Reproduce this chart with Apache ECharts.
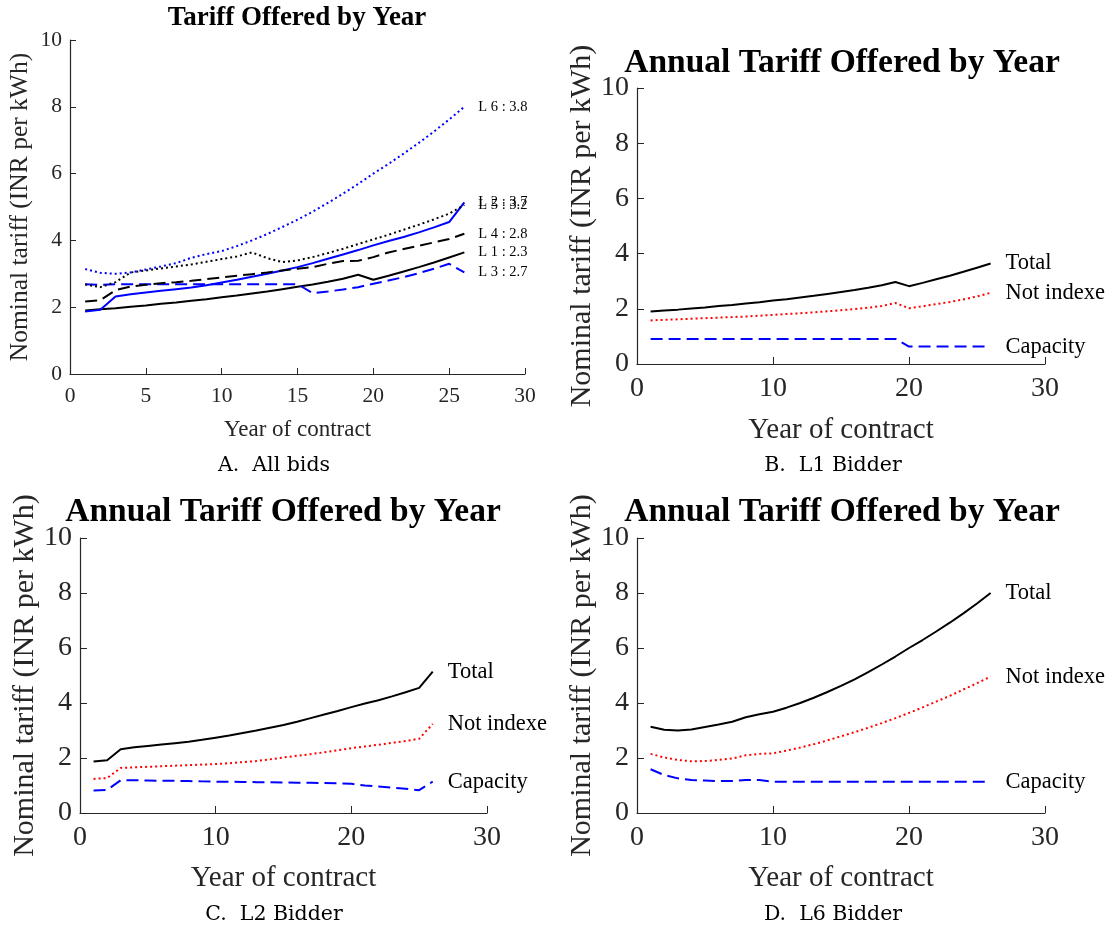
<!DOCTYPE html>
<html>
<head>
<meta charset="utf-8">
<script src="https://cdn.jsdelivr.net/npm/echarts@6/dist/echarts.min.js"></script>
<style>
html,body{margin:0;padding:0;background:#fff;}
#chart{width:1105px;height:930px;}
</style>
</head>
<body>
<div id="chart"></div>
<script>
// ---------- data ----------
const years = [1,2,3,4,5,6,7,8,9,10,11,12,13,14,15,16,17,18,19,20,21,22,23,24,25,26];

// Panel A: total tariff of every bidder
const bidL1 = [1.90,1.94,1.97,2.01,2.05,2.10,2.14,2.19,2.24,2.30,2.35,2.41,2.47,2.54,2.61,2.68,2.76,2.85,2.97,2.82,2.94,3.07,3.20,3.34,3.49,3.64];
const bidL2 = [1.87,1.92,2.32,2.39,2.44,2.49,2.54,2.59,2.66,2.74,2.82,2.91,3.00,3.10,3.20,3.32,3.45,3.58,3.71,3.85,3.98,4.10,4.24,4.39,4.55,5.14];
const bidL3 = [2.69,2.67,2.69,2.69,2.69,2.69,2.69,2.69,2.69,2.69,2.69,2.69,2.69,2.69,2.69,2.42,2.47,2.53,2.60,2.70,2.80,2.90,3.02,3.15,3.30,3.04];
const bidL4 = [2.17,2.21,2.51,2.62,2.67,2.72,2.75,2.79,2.84,2.89,2.94,2.99,3.04,3.10,3.15,3.20,3.30,3.38,3.39,3.50,3.64,3.74,3.84,3.94,4.04,4.20];
const bidL5 = [2.68,2.60,2.75,3.04,3.10,3.16,3.22,3.28,3.36,3.44,3.52,3.64,3.47,3.35,3.40,3.50,3.62,3.75,3.89,4.03,4.17,4.32,4.47,4.63,4.80,5.06];
const bidL6 = [3.14,3.03,3.00,3.04,3.13,3.22,3.32,3.48,3.59,3.68,3.83,4.00,4.19,4.40,4.62,4.86,5.12,5.40,5.69,6.00,6.29,6.60,6.92,7.26,7.62,8.00];
const bidLabels = ['L 1 : 2.3','L 2 : 3.7','L 3 : 2.7','L 4 : 2.8','L 5 : 3.2','L 6 : 3.8'];

// Panel B: L1 bidder components
const l1Total = bidL1;
const l1NotIndexed = [1.58,1.60,1.62,1.64,1.66,1.68,1.70,1.72,1.75,1.78,1.81,1.84,1.87,1.91,1.95,1.99,2.04,2.10,2.21,2.02,2.09,2.17,2.25,2.34,2.45,2.58];
const l1Capacity = [0.91,0.91,0.91,0.91,0.91,0.91,0.91,0.91,0.91,0.91,0.91,0.91,0.91,0.91,0.91,0.91,0.91,0.91,0.91,0.63,0.63,0.63,0.63,0.63,0.63,0.63];

// Panel C: L2 bidder components
const l2Total = bidL2;
const l2NotIndexed = [1.24,1.27,1.64,1.66,1.68,1.70,1.72,1.74,1.76,1.78,1.81,1.85,1.89,1.95,2.02,2.08,2.14,2.21,2.28,2.36,2.42,2.48,2.55,2.62,2.70,3.24];
const l2Capacity = [0.82,0.84,1.19,1.19,1.18,1.17,1.17,1.16,1.15,1.14,1.14,1.13,1.12,1.12,1.11,1.10,1.10,1.09,1.08,1.06,1.00,0.96,0.92,0.88,0.83,1.14];

// Panel D: L6 bidder components
const l6Total = bidL6;
const l6NotIndexed = [2.15,2.02,1.93,1.88,1.89,1.93,1.98,2.10,2.15,2.17,2.27,2.38,2.50,2.64,2.79,2.94,3.10,3.27,3.45,3.64,3.84,4.05,4.26,4.49,4.72,4.96];
const l6Capacity = [1.59,1.38,1.26,1.20,1.18,1.16,1.16,1.20,1.20,1.14,1.14,1.14,1.14,1.14,1.14,1.14,1.14,1.14,1.14,1.14,1.14,1.14,1.14,1.14,1.14,1.14];

const componentNames = ['Total','Not indexed','Capacity'];
const titleA = 'Tariff Offered by Year';
const titleBCD = 'Annual Tariff Offered by Year';
const captions = ['A.  All bids','B.  L1 Bidder','C.  L2 Bidder','D.  L6 Bidder'];
const xName = 'Year of contract';
const yName = 'Nominal tariff (INR per kWh)';

// ---------- chart ----------
const SERIF = 'Liberation Serif, Times New Roman, serif';
const AX = '#262626';
const BLUE = '#0000ff', RED = '#ff0000', BLACK = '#000000';
const DASH = [12,6], DOT = [2,3];

const grids = [
  {left:70, top:40, width:455, height:334},
  {left:637, top:88, width:408, height:276},
  {left:80, top:538, width:407, height:275},
  {left:637, top:538, width:408, height:275}
];

function xAxis(i, interval, fs, nfs, gap, tickLen){
  return {type:'value', gridIndex:i, min:0, max:30, interval:interval,
    name:xName, nameLocation:'middle', nameGap:gap,
    nameTextStyle:{fontFamily:SERIF, fontSize:nfs, color:AX},
    axisLine:{show:true, lineStyle:{color:AX, width:1.2}},
    axisTick:{show:true, inside:true, length:tickLen, lineStyle:{color:AX}},
    axisLabel:{fontFamily:SERIF, fontSize:fs, color:AX, margin:11},
    splitLine:{show:false}};
}
function yAxis(i, fs, nfs, gap, tickLen){
  return {type:'value', gridIndex:i, min:0, max:10, interval:2,
    name:yName, nameLocation:'middle', nameGap:gap, nameRotate:90,
    nameTextStyle:{fontFamily:SERIF, fontSize:nfs, color:AX},
    axisLine:{show:true, lineStyle:{color:AX, width:1.2}},
    axisTick:{show:true, inside:true, length:tickLen, lineStyle:{color:AX}},
    axisLabel:{fontFamily:SERIF, fontSize:fs, color:AX, margin:8},
    splitLine:{show:false}};
}

function pairs(arr){ return years.map((y,k)=>[y,arr[k]]); }

function lineSeries(i, name, data, color, type, label, fs, dist, extraLabel){
  return {type:'line', name:name, xAxisIndex:i, yAxisIndex:i, data:pairs(data),
    showSymbol:false, symbol:'none', animation:false, silent:true,
    lineStyle:{color:color, width:2, type:type},
    endLabel:Object.assign({show:true, formatter:label, distance:dist,
      fontFamily:SERIF, fontSize:fs, color:'#000'}, extraLabel||{})};
}

const series = [];
// Panel A
const aData = [bidL1,bidL2,bidL3,bidL4,bidL5,bidL6];
const aColors = [BLACK,BLUE,BLUE,BLACK,BLACK,BLUE];
const aTypes = ['solid','solid',DASH,DASH,DOT,DOT];
aData.forEach((d,k)=>{
  series.push(lineSeries(0, bidLabels[k], d, aColors[k], aTypes[k], bidLabels[k], 14.5, 14));
});
// Panels B, C, D
const comps = [[l1Total,l1NotIndexed,l1Capacity],[l2Total,l2NotIndexed,l2Capacity],[l6Total,l6NotIndexed,l6Capacity]];
const cColors = [BLACK, RED, BLUE];
const cTypes = ['solid', DOT, DASH];
comps.forEach((set,p)=>{
  set.forEach((d,k)=>{
    const extra = (p===1) ? {width:103, overflow:'truncate', ellipsis:''} : null;
    series.push(lineSeries(p+1, componentNames[k], d, cColors[k], cTypes[k], componentNames[k], 22.5, 15, extra));
  });
});

function txt(x,y,text,font){
  return {type:'text', x:x, y:y, silent:true,
    style:{text:text, font:font, fill:'#000', textAlign:'center', textVerticalAlign:'middle'}};
}

const option = {
  backgroundColor:'#fff',
  animation:false,
  grid:grids,
  xAxis:[xAxis(0,5,21.5,23,44,6), xAxis(1,10,28,29,52,7), xAxis(2,10,28,29,51,7), xAxis(3,10,28,29,51,7)],
  yAxis:[yAxis(0,21.5,25.5,37,6), yAxis(1,28,30,36,7), yAxis(2,28,30,36,7), yAxis(3,28,30,36,7)],
  series:series,
  graphic:[
    txt(297,18,titleA,'bold 27px '+SERIF),
    txt(842,63,titleBCD,'bold 33.5px '+SERIF),
    txt(283,512,titleBCD,'bold 33.5px '+SERIF),
    txt(842,512,titleBCD,'bold 33.5px '+SERIF),
    txt(274,466,captions[0],'20.5px DejaVu Serif'),
    txt(833,466,captions[1],'20.5px DejaVu Serif'),
    txt(274,915,captions[2],'20.5px DejaVu Serif'),
    txt(833,915,captions[3],'20.5px DejaVu Serif')
  ]
};

const chart = echarts.init(document.getElementById('chart'), null, {renderer:'canvas'});
chart.setOption(option);
</script>
</body>
</html>
